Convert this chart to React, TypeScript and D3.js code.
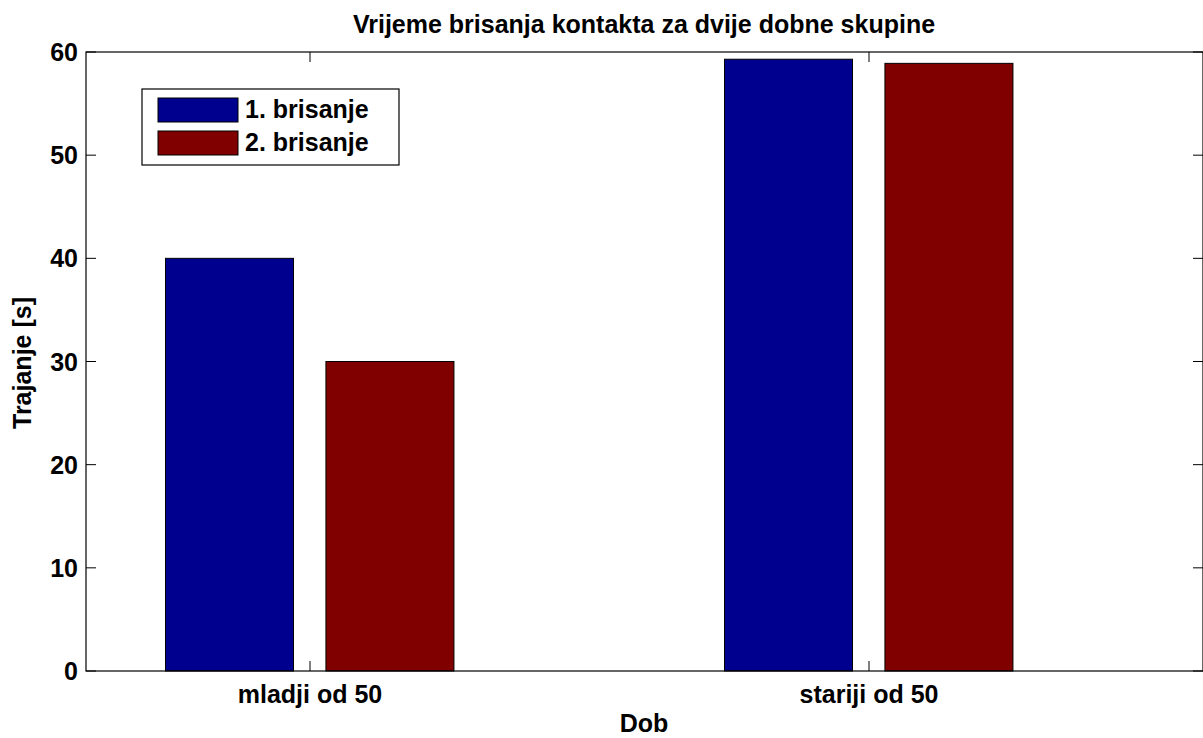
import React from "react";
import * as d3 from "d3";

const categories = ["mladji od 50", "stariji od 50"];
const seriesNames = ["1. brisanje", "2. brisanje"];
const series1 = [40, 59.3];
const series2 = [30, 58.9];
const seriesColors = ["#00008f", "#800000"];
const yTicks = [0, 10, 20, 30, 40, 50, 60];
const titleText = "Vrijeme brisanja kontakta za dvije dobne skupine";
const xLabel = "Dob";
const yLabel = "Trajanje [s]";

const W = 1203, H = 738;
const L = 86, R = 1203, T = 52, B = 671;
const font = "'Liberation Sans', Arial, Helvetica, sans-serif";
const fs = 25;

export default function App() {
  const x = d3.scaleLinear().domain([1, 2]).range([310, 869]);
  const y = d3.scaleLinear().domain([0, 60]).range([B, T]);
  const barW = 0.229;
  const offs = [-0.144, 0.143];
  const all = [series1, series2];
  const tickLen = 10;
  const w = x(1 + barW) - x(1);

  return (
    <svg width={W} height={H} style={{ position: "absolute", left: 0, top: 0, background: "#fff" }}>
      <rect x={0} y={0} width={W} height={H} fill="#fff" />
      {all.map((vals, s) =>
        vals.map((v, i) => {
          const cx = x(i + 1 + offs[s]);
          return (
            <rect key={`${s}-${i}`} x={cx - w / 2} y={y(v)} width={w} height={y(0) - y(v)}
              fill={seriesColors[s]} stroke="#000" strokeWidth={1} />
          );
        })
      )}
      <rect x={L} y={T} width={R - L} height={B - T} fill="none" stroke="#000" strokeWidth={1.2} />
      {yTicks.map((t) => (
        <g key={t}>
          <line x1={L} x2={L + tickLen} y1={y(t)} y2={y(t)} stroke="#000" />
          <line x1={R - tickLen} x2={R} y1={y(t)} y2={y(t)} stroke="#000" />
          <text x={L - 8} y={y(t)} dy="0.36em" textAnchor="end" fontFamily={font} fontSize={fs} fontWeight="bold">{t}</text>
        </g>
      ))}
      {categories.map((c, i) => (
        <g key={c}>
          <line x1={x(i + 1)} x2={x(i + 1)} y1={B} y2={B - tickLen} stroke="#000" />
          <line x1={x(i + 1)} x2={x(i + 1)} y1={T} y2={T + tickLen} stroke="#000" />
          <text x={x(i + 1)} y={703} textAnchor="middle" fontFamily={font} fontSize={fs} fontWeight="bold">{c}</text>
        </g>
      ))}
      <text x={644} y={33} textAnchor="middle" fontFamily={font} fontSize={fs} fontWeight="bold">{titleText}</text>
      <text x={644} y={732} textAnchor="middle" fontFamily={font} fontSize={fs} fontWeight="bold">{xLabel}</text>
      <text transform={`translate(31,363) rotate(-90)`} textAnchor="middle" fontFamily={font} fontSize={fs} fontWeight="bold">{yLabel}</text>
      <rect x={142} y={89} width={257} height={76} fill="#fff" stroke="#000" strokeWidth={1.2} />
      {seriesNames.map((n, i) => (
        <g key={n}>
          <rect x={158} y={98 + i * 33} width={80} height={24} fill={seriesColors[i]} stroke="#000" />
          <text x={245} y={118 + i * 33} fontFamily={font} fontSize={fs} fontWeight="bold">{n}</text>
        </g>
      ))}
    </svg>
  );
}
